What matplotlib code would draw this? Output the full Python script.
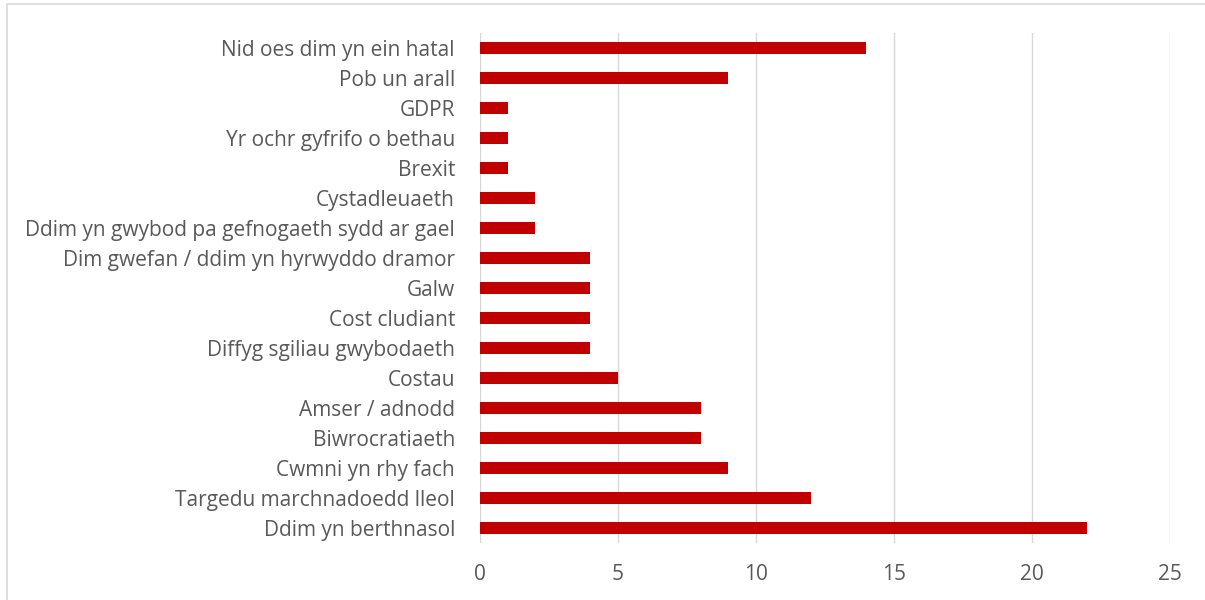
import matplotlib.pyplot as plt
from matplotlib.patches import Rectangle

# categories listed bottom to top, as drawn
categories = [
    "Ddim yn berthnasol",
    "Targedu marchnadoedd lleol",
    "Cwmni yn rhy fach",
    "Biwrocratiaeth",
    "Amser / adnodd",
    "Costau",
    "Diffyg sgiliau gwybodaeth",
    "Cost cludiant",
    "Galw",
    "Dim gwefan / ddim yn hyrwyddo dramor",
    "Ddim yn gwybod pa gefnogaeth sydd ar gael",
    "Cystadleuaeth",
    "Brexit",
    "Yr ochr gyfrifo o bethau",
    "GDPR",
    "Pob un arall",
    "Nid oes dim yn ein hatal",
]
counts = [22, 12, 9, 8, 8, 5, 4, 4, 4, 4, 2, 2, 1, 1, 1, 9, 14]
x_ticks = [0, 5, 10, 15, 20, 25]

TEXT = "#595959"
GRID = "#D9D9D9"
BAR = "#C00000"

plt.rcParams["font.family"] = ["Open Sans", "DejaVu Sans"]

fig = plt.figure(figsize=(12.05, 6), dpi=100)
ax = fig.add_axes([480 / 1205, 57 / 600, 690 / 1205, 510 / 600])

# outer chart border (runs off the right and bottom edges)
fig.patches.append(Rectangle((7 / 1205, -0.05), 1.1, 1 - 4 / 600 + 0.05,
                             transform=fig.transFigure, fill=False,
                             edgecolor=GRID, linewidth=1.2))

y = list(range(len(categories)))
ax.barh(y, counts, height=0.4, color=BAR, zorder=3)

ax.set_xlim(0, 25)
ax.set_ylim(-0.5, len(categories) - 0.5)
ax.set_yticks(y)
ax.set_yticklabels(categories)
ax.set_xticks(x_ticks)
ax.xaxis.grid(True, color=GRID, linewidth=1, zorder=0)
ax.set_axisbelow(True)

for s in ax.spines.values():
    s.set_visible(False)
ax.tick_params(axis="both", length=0, colors=TEXT, labelsize=15)
ax.tick_params(axis="y", pad=18)
ax.tick_params(axis="x", pad=15)

fig.savefig("out.png", dpi=100)
